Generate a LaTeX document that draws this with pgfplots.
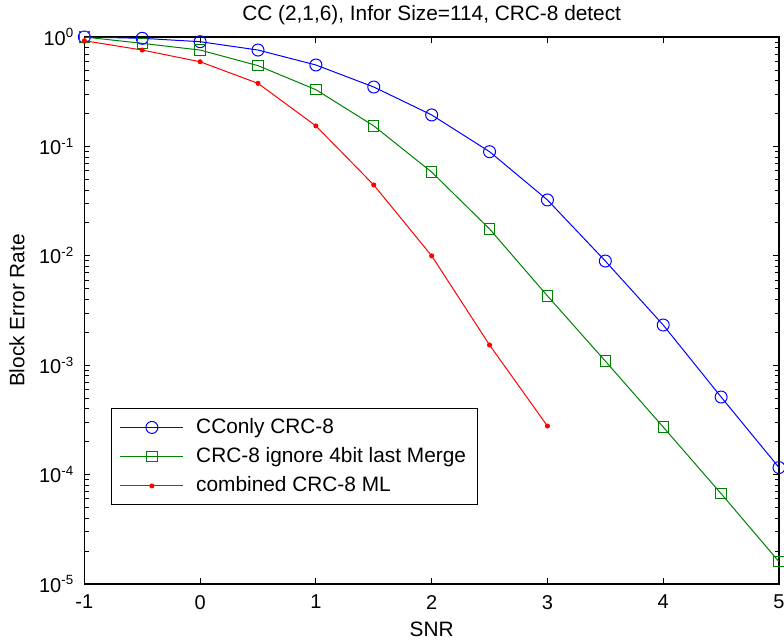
\documentclass[border=0pt]{standalone}
\usepackage{pgfplots}
\pgfplotsset{compat=1.18}
\usepackage{fontspec}
\setmainfont{Liberation Sans}

\definecolor{mblue}{RGB}{0,0,255}
\definecolor{mgreen}{RGB}{0,128,0}
\definecolor{mred}{RGB}{255,0,0}

\begin{document}
\fontsize{12}{14}\selectfont
\begin{tikzpicture}
\begin{axis}[
  scale only axis,
  width=416.8pt, height=328.2pt,
  ymode=log,
  xmin=-1, xmax=5,
  ymin=1e-5, ymax=1,
  xtick={-1,0,1,2,3,4,5},
  xticklabels={-1,0,1,2,3,4,5},
  ytick={1e-5,1e-4,1e-3,1e-2,1e-1,1},
  yticklabels={10\textsuperscript{-5},10\textsuperscript{-4},10\textsuperscript{-3},10\textsuperscript{-2},10\textsuperscript{-1},10\textsuperscript{0}},
  tick pos=both,
  tick align=inside,
  major tick length=3.6pt,
  minor tick length=2.6pt,
  every tick/.style={black, line width=0.5pt},
  axis line style={line width=1pt},
  tick label style={font=\fontsize{12}{14}\selectfont},
  xticklabel style={yshift=-2.5pt},
  yticklabel style={xshift=-2pt},
  title={CC (2,1,6), Infor Size=114, CRC-8 detect},
  title style={font=\fontsize{12.5}{15}\selectfont,
    at={(axis description cs:0.5,1)}, anchor=base, yshift=4.2pt},
  xlabel={SNR},
  ylabel={Block Error Rate},
  label style={font=\fontsize{12.5}{15}\selectfont},
  xlabel style={at={(axis description cs:0.5,0)}, anchor=base, yshift=-31.6pt},
  ylabel style={at={(axis description cs:-0.0864,0.5)}, anchor=base},
  legend cell align=left,
  legend style={at={(0.0385,0.322)}, anchor=north west, draw=black,
    line width=0.6pt, font=\fontsize{12.5}{15}\selectfont,
    row sep=2.7pt, inner xsep=5pt, inner ysep=4pt},
  legend image code/.code={\draw[mark repeat=2,mark phase=2]
    plot coordinates {(0pt,0pt) (18.9pt,0pt) (37.8pt,0pt)};
    \path (43.2pt,0pt);},
]
\addplot[mblue, line width=0.6pt, mark=o, mark size=3.6pt] coordinates {
  (-1,1.0) (-0.5,0.973) (0,0.906) (0.5,0.76) (1,0.555) (1.5,0.349)
  (2,0.194) (2.5,0.0895) (3,0.0324) (3.5,0.00896) (4,0.00233)
  (4.5,5.12e-4) (5,1.16e-4)
};
\addlegendentry{CConly CRC-8}
\addplot[mgreen, line width=0.6pt, mark=square, mark size=3.1pt] coordinates {
  (-1,1.0) (-0.5,0.875) (0,0.76) (0.5,0.547) (1,0.33) (1.5,0.154)
  (2,0.0583) (2.5,0.0176) (3,0.0043) (3.5,0.00109) (4,2.72e-4)
  (4.5,6.7e-5) (5,1.6e-5)
};
\addlegendentry{CRC-8 ignore 4bit last Merge}
\addplot[mred, line width=0.6pt, mark=*, mark size=1.2pt] coordinates {
  (-1,0.925) (-0.5,0.76) (0,0.594) (0.5,0.377) (1,0.154) (1.5,0.0444)
  (2,0.0100) (2.5,0.00153) (3,2.78e-4)
};
\addlegendentry{combined CRC-8 ML}
\end{axis}
\pgfresetboundingbox
\path[use as bounding box]
  ([xshift=-50.6pt,yshift=-35.4pt]current axis.south west) rectangle
  ([xshift=3pt,yshift=22.2pt]current axis.north east);
\end{tikzpicture}
\end{document}
